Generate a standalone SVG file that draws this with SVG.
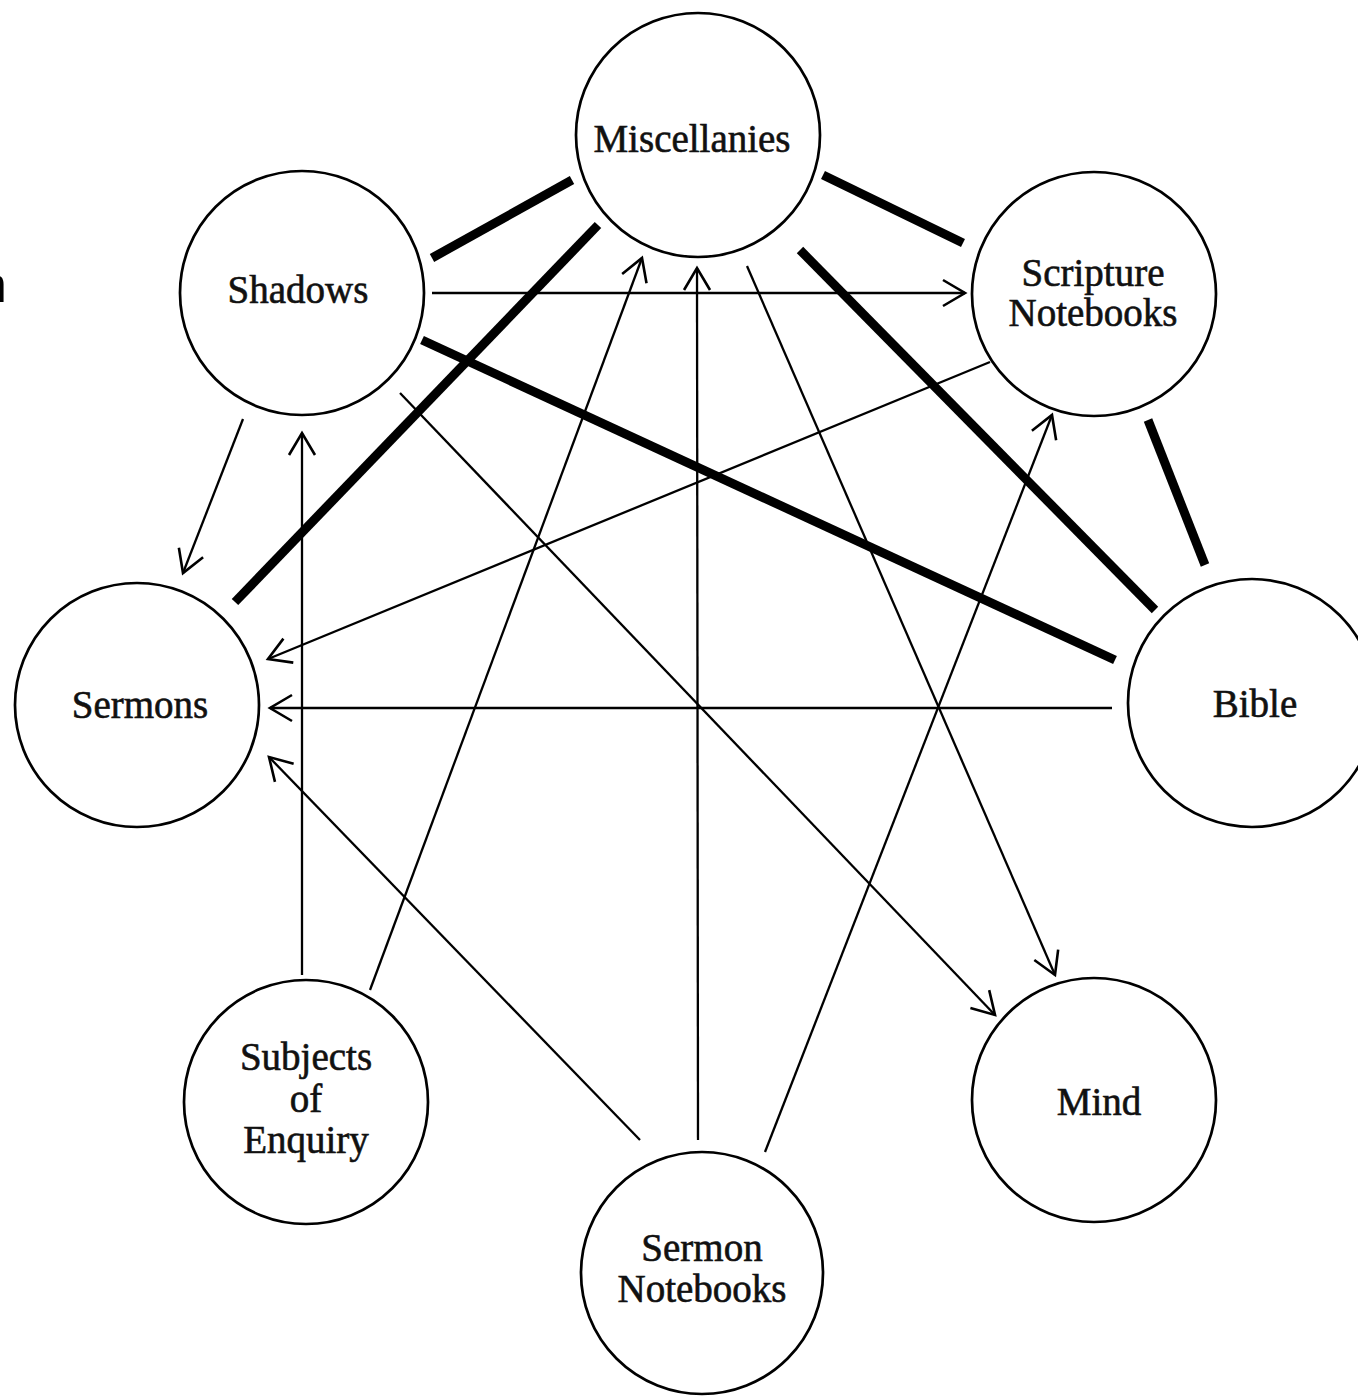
<svg xmlns="http://www.w3.org/2000/svg" width="1358" height="1397" viewBox="0 0 1358 1397">
<style>
.node circle{fill:#fff;stroke:#000;stroke-width:2.7}
.node text{font-family:"Liberation Serif","Times New Roman",serif;font-size:39px;fill:#111;stroke:#111;stroke-width:0.6;text-anchor:middle}
.thick{stroke:#000;stroke-width:9;fill:none}
.thin{stroke:#000;stroke-width:2.3;fill:none;marker-end:url(#arr)}
</style>
<defs>
<marker id="arr" viewBox="0 0 26 28" refX="24" refY="14" markerWidth="26" markerHeight="28" markerUnits="userSpaceOnUse" orient="auto" overflow="visible">
<path d="M2,1 L24,14 L2,27" fill="none" stroke="#000" stroke-width="2.6"/>
</marker>
</defs>
<rect width="1358" height="1397" fill="#fff"/>
<text x="-21" y="302" font-family="Liberation Sans, Arial, sans-serif" font-size="50" fill="#000">n</text>
<g id="nodes">
<g id="miscellanies" class="node"><circle cx="698" cy="135" r="122"/><text x="692" y="152">Miscellanies</text></g>
<g id="shadows" class="node"><circle cx="302" cy="293" r="122"/><text x="298" y="303">Shadows</text></g>
<g id="scripture-notebooks" class="node"><circle cx="1094" cy="294" r="122"/><text x="1093" y="286">Scripture</text><text x="1093" y="326">Notebooks</text></g>
<g id="sermons" class="node"><circle cx="137" cy="705" r="122"/><text x="140" y="718">Sermons</text></g>
<g id="bible" class="node"><circle cx="1252" cy="703" r="124"/><text x="1255" y="717">Bible</text></g>
<g id="subjects-of-enquiry" class="node"><circle cx="306" cy="1102" r="122"/><text x="306" y="1070">Subjects</text><text x="306" y="1112">of</text><text x="306" y="1153">Enquiry</text></g>
<g id="mind" class="node"><circle cx="1094" cy="1100" r="122"/><text x="1099" y="1115">Mind</text></g>
<g id="sermon-notebooks" class="node"><circle cx="702" cy="1273" r="121"/><text x="702" y="1261">Sermon</text><text x="702" y="1302">Notebooks</text></g>
</g>
<g id="connectors">
<line class="thick" x1="432" y1="258" x2="572" y2="180"/>
<line class="thick" x1="823" y1="175" x2="963" y2="243"/>
<line class="thick" x1="598" y1="225" x2="235" y2="602"/>
<line class="thick" x1="800" y1="250" x2="1155" y2="610"/>
<line class="thick" x1="422" y1="340" x2="1115" y2="660"/>
<line class="thick" x1="1148" y1="420" x2="1205" y2="565"/>
<line class="thin" x1="432" y1="293" x2="965" y2="293"/>
<line class="thin" x1="243" y1="419" x2="183" y2="573"/>
<line class="thin" x1="302" y1="975" x2="302" y2="433"/>
<line class="thin" x1="370" y1="990" x2="642" y2="258"/>
<line class="thin" x1="698" y1="1140" x2="697" y2="268"/>
<line class="thin" x1="747" y1="266" x2="1055" y2="975"/>
<line class="thin" x1="400" y1="393" x2="995" y2="1015"/>
<line class="thin" x1="990" y1="362" x2="268" y2="659"/>
<line class="thin" x1="1112" y1="708" x2="270" y2="708"/>
<line class="thin" x1="640" y1="1140" x2="269" y2="757"/>
<line class="thin" x1="765" y1="1152" x2="1052" y2="415"/>
</g>
</svg>
